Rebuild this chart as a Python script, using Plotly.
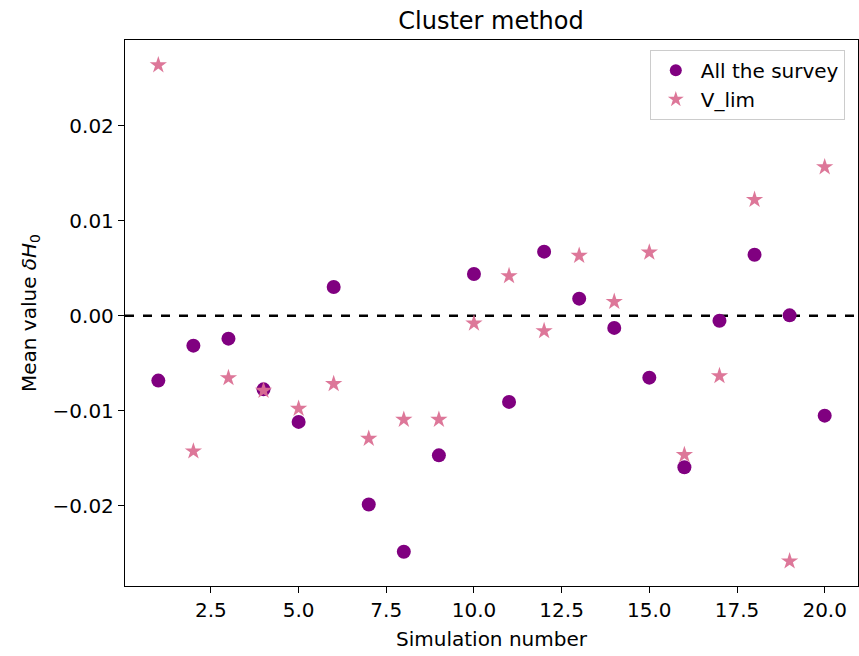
import plotly.graph_objects as go

simulation = list(range(1, 21))
all_survey = [-0.00684, -0.00316, -0.00242, -0.00776, -0.01119, 0.00302, -0.01989, -0.02487,
              -0.01471, 0.00439, -0.00908, 0.00674, 0.00179, -0.00129, -0.00653, -0.01597,
              -0.00053, 0.00642, 0.00003, -0.01053]
v_lim = [0.02639, -0.01428, -0.00656, -0.00789, -0.00979, -0.00719, -0.01295, -0.01095,
         -0.01095, -0.00081, 0.00418, -0.00161, 0.00632, 0.00147, 0.00666, -0.01466,
         -0.00635, 0.01221, -0.02586, 0.01565]
x_ticks = [2.5, 5.0, 7.5, 10.0, 12.5, 15.0, 17.5, 20.0]
y_ticks = [-0.02, -0.01, 0.0, 0.01, 0.02]

FONT = "DejaVu Sans"

fig = go.Figure()
fig.add_trace(go.Scatter(x=simulation, y=all_survey, mode="markers", name="All the survey",
                         marker=dict(symbol="circle", size=14, color="#800080", line=dict(width=0))))
fig.add_trace(go.Scatter(x=simulation, y=v_lim, mode="markers", name="V_lim",
                         marker=dict(symbol="star", size=13, color="#DB7093", opacity=0.95,
                                     line=dict(width=0))))
fig.add_hline(y=0, line=dict(color="black", width=2.5, dash="dash"), layer="below")

axis_common = dict(showline=True, linecolor="black", linewidth=1.3, mirror=True,
                   ticks="outside", ticklen=6, tickwidth=1.3, tickcolor="black",
                   showgrid=False, zeroline=False,
                   tickfont=dict(family=FONT, size=20, color="black"))

fig.update_xaxes(range=[0.05, 20.95], tickvals=x_ticks, tickformat=".1f",
                 title=dict(text="Simulation number", font=dict(family=FONT, size=20, color="black"),
                            standoff=10),
                 **axis_common)
fig.update_yaxes(range=[-0.02847, 0.02903], tickvals=y_ticks, tickformat=".2f",
                 title=dict(text="Mean value <i>δH</i><sub>0</sub>",
                            font=dict(family=FONT, size=20, color="black"), standoff=10),
                 **axis_common)

fig.update_layout(
    width=859, height=656,
    margin=dict(l=125, r=1, t=40, b=70),
    paper_bgcolor="white", plot_bgcolor="white",
    title=dict(text="Cluster method", x=0.5716, xanchor="center", y=0.969, yanchor="middle",
               font=dict(family=FONT, size=24, color="black")),
    legend=dict(x=0.982, y=0.982, xanchor="right", yanchor="top",
                bgcolor="rgba(255,255,255,0.8)", bordercolor="#cccccc", borderwidth=1,
                font=dict(family=FONT, size=20, color="black"), itemsizing="constant",
                itemwidth=40, tracegroupgap=4),
    showlegend=True,
)

fig.write_html("out.html")
